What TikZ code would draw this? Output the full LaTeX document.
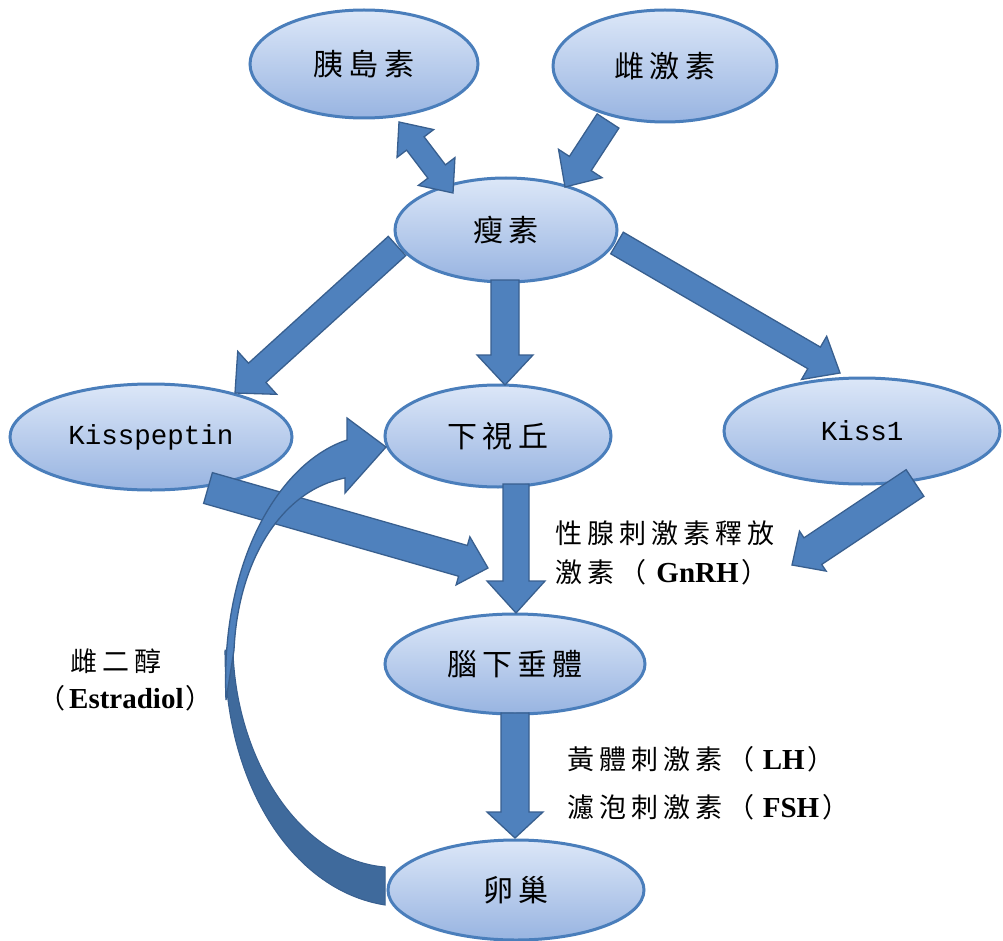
\documentclass[tikz,border=0pt]{standalone}
\usepackage{fontspec}
\usetikzlibrary{shapes.geometric,calc}
\newfontfamily\cjkA[LetterSpace=17]{Noto Sans CJK TC}
\newfontfamily\cjkB[LetterSpace=19]{Noto Sans CJK TC}
\newfontfamily\monof{Liberation Mono}
\newfontfamily\serifb{Liberation Serif}
\definecolor{ellTop}{HTML}{DCE7F8}
\definecolor{ellBot}{HTML}{98B4E1}
\definecolor{ellLine}{HTML}{4A7EBB}
\definecolor{arrFill}{HTML}{4F81BD}
\definecolor{arrLine}{HTML}{385F8F}
\definecolor{arrDark}{HTML}{3F6A9C}
\newcommand{\ellfont}{\cjkA\fontsize{30}{34}\selectfont}
\newcommand{\lblfont}{\cjkB\fontsize{27}{31}\selectfont}
\newcommand{\latb}[1]{{\serifb\bfseries\fontsize{29}{32}\selectfont #1}}
\newcommand{\blockarrow}[5]{%
  \path let \p1=(#1), \p2=(#2) in \pgfextra{%
    \pgfmathsetmacro\BAang{atan2(\y2-\y1,\x2-\x1)}%
    \pgfmathsetmacro\BAlen{veclen(\x2-\x1,\y2-\y1)}%
    \global\let\BAangG\BAang \global\let\BAlenG\BAlen};
  \begin{scope}[shift={(#1)}, rotate=\BAangG, x=1pt, y=1pt]
    \filldraw[barrow] (0,-#3/2) -- (\BAlenG-#5,-#3/2) -- (\BAlenG-#5,-#4/2) -- (\BAlenG,0)
      -- (\BAlenG-#5,#4/2) -- (\BAlenG-#5,#3/2) -- (0,#3/2) -- cycle;
  \end{scope}}
\newcommand{\dblockarrow}[5]{%
  \path let \p1=(#1), \p2=(#2) in \pgfextra{%
    \pgfmathsetmacro\BAang{atan2(\y2-\y1,\x2-\x1)}%
    \pgfmathsetmacro\BAlen{veclen(\x2-\x1,\y2-\y1)}%
    \global\let\BAangG\BAang \global\let\BAlenG\BAlen};
  \begin{scope}[shift={(#1)}, rotate=\BAangG, x=1pt, y=1pt]
    \filldraw[barrow] (#5,-#3/2) -- (\BAlenG-#5,-#3/2) -- (\BAlenG-#5,-#4/2) -- (\BAlenG,0)
      -- (\BAlenG-#5,#4/2) -- (\BAlenG-#5,#3/2) -- (#5,#3/2) -- (#5,#4/2) -- (0,0)
      -- (#5,-#4/2) -- cycle;
  \end{scope}}
\begin{document}
\begin{tikzpicture}[x=1pt,y=-1pt,
  ell/.style={ellipse, draw=ellLine, line width=3pt, top color=ellTop, bottom color=ellBot,
    inner sep=0pt, font=\ellfont},
  barrow/.style={fill=arrFill, draw=arrLine, line width=1.3pt, line join=miter},
  lbl/.style={anchor=west, inner sep=0pt, font=\lblfont}]
\useasboundingbox (0,0) rectangle (1003,941);
\fill[white] (0,0) rectangle (1003,941);
% ellipses
\node[ell, minimum width=228pt, minimum height=108pt] (insulin) at (364,64) {胰島素};
\node[ell, minimum width=224pt, minimum height=112pt] (estrogen) at (665,66) {雌激素};
\node[ell, minimum width=222pt, minimum height=104pt] (leptin) at (506,230) {瘦素};
\node[ell, minimum width=282pt, minimum height=106pt] (kisspeptin) at (151,437) {\monof\fontsize{27.5}{30}\selectfont Kisspeptin};
\node[ell, minimum width=226pt, minimum height=102pt] (hypo) at (498,436) {下視丘};
\node[ell, minimum width=276pt, minimum height=106pt] (kiss1) at (862,431) {\monof\fontsize{27.5}{30}\selectfont Kiss1};
\node[ell, minimum width=260pt, minimum height=100pt] (pit) at (515,664) {腦下垂體};
\node[ell, minimum width=256pt, minimum height=100pt] (ovary) at (516,890) {卵巢};
% arrow end points
\coordinate (a1s) at (399,122); \coordinate (a1e) at (453,193);
\coordinate (a2s) at (608,121); \coordinate (a2e) at (565,187);
\coordinate (a3s) at (397,246); \coordinate (a3e) at (235,393);
\coordinate (a4s) at (505,280); \coordinate (a4e) at (505,385);
\coordinate (a5s) at (617,243); \coordinate (a5e) at (840,373);
\coordinate (a6s) at (208,488); \coordinate (a6e) at (488,568);
\coordinate (a7s) at (516,484); \coordinate (a7e) at (516,613);
\coordinate (a8s) at (915,483); \coordinate (a8e) at (792,565);
\coordinate (a9s) at (515,713); \coordinate (a9e) at (515,838);
% block arrows
\dblockarrow{a1s}{a1e}{22}{46}{27}
\blockarrow{a2s}{a2e}{26}{52}{28}
\blockarrow{a3s}{a3e}{26}{58}{30}
\blockarrow{a4s}{a4e}{28}{56}{30}
\blockarrow{a5s}{a5e}{25}{50}{30}
\blockarrow{a6s}{a6e}{32}{50}{26}
\blockarrow{a7s}{a7e}{26}{58}{32}
\blockarrow{a8s}{a8e}{32}{48}{25}
\blockarrow{a9s}{a9e}{28}{56}{26}
% curved arrow ovary -> hypothalamus
\filldraw[fill=arrDark, draw=arrLine, line width=1pt]
  (385,905) .. controls (290,890) and (224,780) .. (225,650) -- (233,650)
  .. controls (236,760) and (300,860) .. (385,867) -- cycle;
\filldraw[barrow]
  (226,700) .. controls (220,560) and (280,462) .. (347,440) -- (347,418) -- (386,447)
  -- (345,493) -- (345,478) .. controls (282,490) and (238,560) .. (234,650) -- cycle;
% labels
\node[lbl] (gnrh1) at (555,533) {性腺刺激素釋放};
\node[lbl] (gnrh2) at (555,572) {激素（\hspace{10pt}\latb{GnRH}\hspace{3pt}）};
\node[lbl] (lh) at (567,759) {黃體刺激素（\hspace{8pt}\latb{LH}\hspace{3pt}）};
\node[lbl] (fsh) at (567,807) {濾泡刺激素（\hspace{8pt}\latb{FSH}\hspace{3pt}）};
\node[lbl] (e2a) at (70,661) {雌二醇};
\node[lbl] (e2b) at (38,698) {（\hspace{4pt}\latb{Estradiol}\hspace{2pt}）};
\end{tikzpicture}
\end{document}
